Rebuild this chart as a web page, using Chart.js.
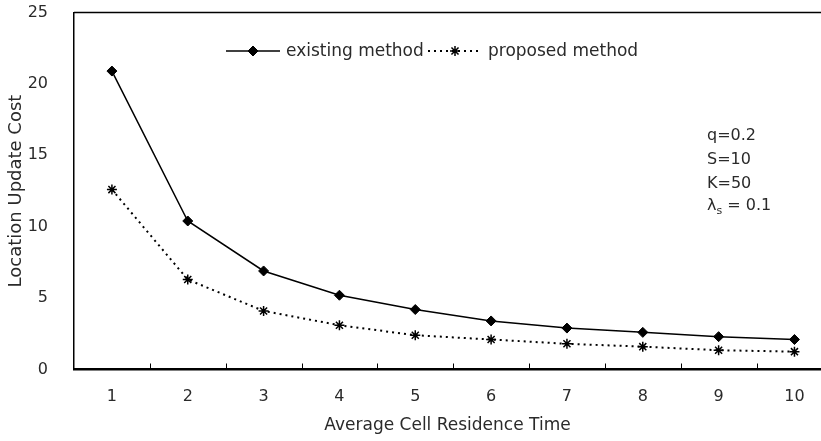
<!DOCTYPE html>
<html>
<head>
<meta charset="utf-8">
<script src="https://cdn.jsdelivr.net/npm/chart.js@4/dist/chart.umd.min.js"></script>
<style>
  html, body { margin: 0; padding: 0; background: #fff; }
  #wrap { width: 821px; height: 441px; }
</style>
</head>
<body>
<div id="wrap"><canvas id="c" width="821" height="441"></canvas></div>
<script>
const categories = [1, 2, 3, 4, 5, 6, 7, 8, 9, 10];
const existingMethod = [20.9, 10.4, 6.9, 5.2, 4.2, 3.4, 2.9, 2.6, 2.3, 2.1];
const proposedMethod = [12.6, 6.3, 4.1, 3.1, 2.4, 2.1, 1.8, 1.6, 1.35, 1.25];
const yTicks = [0, 5, 10, 15, 20, 25];
const seriesNames = ['existing method', 'proposed method'];
const paramLines = ['q=0.2', 'S=10', 'K=50'];
const lambdaText = ['λ', 's', ' = 0.1'];

const FONT = '"DejaVu Sans", sans-serif';
const TEXT = '#2a2a2a';

const toPoints = arr => categories.map((c, i) => ({ x: c, y: arr[i] }));

const frameAndTicks = {
  id: 'frameAndTicks',
  afterDraw(chart) {
    const ctx = chart.ctx, xs = chart.scales.x, area = chart.chartArea;
    ctx.save();
    ctx.strokeStyle = '#000';
    // top frame line
    ctx.lineWidth = 1.5;
    ctx.beginPath();
    ctx.moveTo(area.left, area.top);
    ctx.lineTo(chart.width, area.top);
    ctx.stroke();
    // inner tick marks between categories
    ctx.lineWidth = 1;
    for (let i = 0; i < categories.length - 1; i++) {
      const px = Math.round(xs.getPixelForValue((categories[i] + categories[i + 1]) / 2)) + 0.5;
      ctx.beginPath();
      ctx.moveTo(px, area.bottom);
      ctx.lineTo(px, area.bottom - 6);
      ctx.stroke();
    }
    ctx.restore();
  }
};

const customLegend = {
  id: 'customLegend',
  afterDraw(chart) {
    const ctx = chart.ctx;
    const y = 51;
    const items = [
      { ds: chart.data.datasets[0], x0: 226 },
      { ds: chart.data.datasets[1], x0: 428 }
    ];
    ctx.save();
    items.forEach(it => {
      const ds = it.ds;
      ctx.strokeStyle = ds.borderColor;
      ctx.lineWidth = ds.borderWidth;
      ctx.setLineDash(ds.borderDash || []);
      ctx.beginPath();
      ctx.moveTo(it.x0, y);
      ctx.lineTo(it.x0 + 54, y);
      ctx.stroke();
      ctx.setLineDash([]);
      ctx.fillStyle = ds.pointBackgroundColor;
      ctx.strokeStyle = ds.pointBorderColor;
      ctx.lineWidth = ds.pointBorderWidth;
      Chart.helpers.drawPoint(ctx, {
        pointStyle: ds.pointStyle, radius: ds.pointRadius, rotation: 0, borderWidth: ds.pointBorderWidth
      }, it.x0 + 27, y);
      ctx.fillStyle = TEXT;
      ctx.font = '17px ' + FONT;
      ctx.textBaseline = 'middle';
      ctx.textAlign = 'left';
      ctx.fillText(ds.label, it.x0 + 60, y + 1);
    });
    // parameter annotation
    ctx.font = '16px ' + FONT;
    ctx.fillStyle = TEXT;
    ctx.textBaseline = 'middle';
    const ax = 707;
    const rows = [136, 160, 183.5];
    paramLines.forEach((t, i) => ctx.fillText(t, ax, rows[i]));
    let lx = ax;
    const ly = 206;
    ctx.fillText(lambdaText[0], lx, ly);
    lx += ctx.measureText(lambdaText[0]).width;
    ctx.font = '11px ' + FONT;
    ctx.fillText(lambdaText[1], lx, ly + 5);
    lx += ctx.measureText(lambdaText[1]).width;
    ctx.font = '16px ' + FONT;
    ctx.fillText(lambdaText[2], lx, ly);
    ctx.restore();
  }
};

new Chart(document.getElementById('c'), {
  type: 'line',
  data: {
    datasets: [
      {
        label: seriesNames[0],
        data: toPoints(existingMethod),
        borderColor: '#000',
        borderWidth: 1.5,
        pointStyle: 'rectRot',
        pointRadius: 5,
        pointBackgroundColor: '#000',
        pointBorderColor: '#000',
        pointBorderWidth: 1,
        tension: 0
      },
      {
        label: seriesNames[1],
        data: toPoints(proposedMethod),
        borderColor: '#000',
        borderWidth: 2,
        borderDash: [2, 4],
        pointStyle: 'star',
        pointRadius: 5,
        pointBackgroundColor: '#000',
        pointBorderColor: '#000',
        pointBorderWidth: 1.5,
        tension: 0
      }
    ]
  },
  options: {
    responsive: false,
    animation: false,
    layout: { autoPadding: false, padding: { top: 12.5, left: 0, right: 0, bottom: 0 } },
    plugins: { legend: { display: false }, tooltip: { enabled: false } },
    scales: {
      x: {
        type: 'linear',
        position: 'bottom',
        min: 0.5,
        max: 10.35,
        afterBuildTicks: s => { s.ticks = categories.map(v => ({ value: v })); },
        afterFit: s => { s.height = 71.5; s.paddingLeft = 0; s.paddingRight = 0; },
        grid: { display: false, drawTicks: false },
        border: { display: true, color: '#000', width: 2.5 },
        ticks: { color: TEXT, font: { family: FONT, size: 16 }, padding: 18, maxRotation: 0, autoSkip: false },
        title: { display: true, text: 'Average Cell Residence Time', color: TEXT, font: { family: FONT, size: 17 }, padding: { top: 2, bottom: 5 } }
      },
      y: {
        min: 0,
        max: 25,
        afterBuildTicks: s => { s.ticks = yTicks.map(v => ({ value: v })); },
        afterFit: s => { s.width = 74; s.paddingTop = 0; s.paddingBottom = 0; },
        grid: { display: false, drawTicks: false },
        border: { display: true, color: '#000', width: 1.5 },
        ticks: { color: TEXT, font: { family: FONT, size: 16 }, padding: 26 },
        title: { display: true, text: 'Location Update Cost', color: TEXT, font: { family: FONT, size: 18 }, padding: { top: 6, bottom: 0 } }
      }
    }
  },
  plugins: [frameAndTicks, customLegend]
});
</script>
</body>
</html>
